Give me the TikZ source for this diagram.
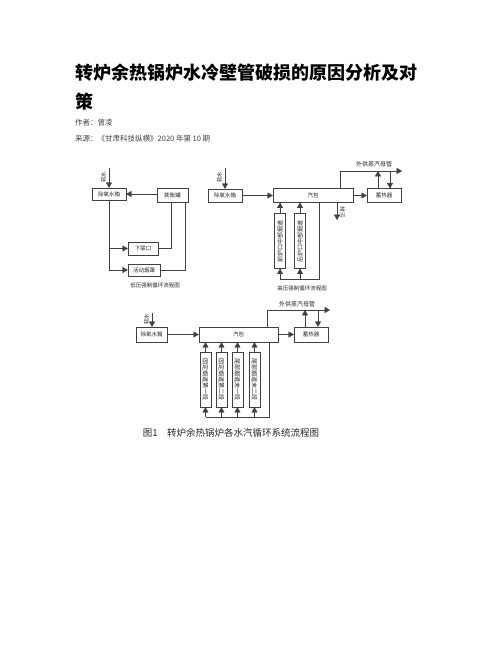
\documentclass[tikz,border=0pt]{standalone}
\usepackage{fontspec}
\newfontfamily\cjk{Noto Sans CJK SC}
\usetikzlibrary{arrows}
\tikzstyle{fl} = [-triangle 60]
\tikzstyle{bx} = [draw, inner sep=0pt, text=black!85, font=\cjk\fontsize{5.5}{6}\selectfont]
\tikzstyle{vbx} = [bx, minimum width=11pt, minimum height=55pt, font=\cjk\fontsize{6}{6}\selectfont]
\tikzstyle{lbl} = [inner sep=0pt, text=black!85, font=\cjk\fontsize{5.5}{6}\selectfont]

\begin{document}
\begin{tikzpicture}[yscale=-1, line width=0.4pt, draw=black!75]
			\useasboundingbox (0pt,0pt) rectangle (502pt,649pt);
			% title
			\node (title) at (75pt,73pt)[right, inner sep=0pt, font=\cjk\bfseries\fontsize{18}{20}\selectfont]{转炉余热锅炉水冷壁管破损的原因分析及对};
			\node (title2) at (75pt,102pt)[right, inner sep=0pt, font=\cjk\bfseries\fontsize{18}{20}\selectfont]{策};
			\node (author) at (75pt,123pt)[right, inner sep=0pt, text=black!75, font=\cjk\fontsize{7.5}{8}\selectfont]{作者：曾凌};
			\node (source) at (75pt,139pt)[right, inner sep=0pt, text=black!75, font=\cjk\fontsize{7.5}{8}\selectfont]{来源：《甘肃科技纵横》2020 年第 10 期};
			% low pressure loop
			\node[bx, minimum width=34pt, minimum height=12pt] (cy1) at (109pt,194pt) {除氧水箱};
			\node[bx, minimum width=31pt, minimum height=14pt] (pzg) at (172.5pt,195pt) {膨胀罐};
			\node[bx, minimum width=30pt, minimum height=13pt] (xlk) at (143pt,248.5pt) {下联口};
			\node[bx, minimum width=32pt, minimum height=12pt] (hdyz) at (144pt,270pt) {活动烟罩};
			\coordinate (rs1) at (109pt,168pt);
			\node[lbl] (rs1t) at (103.5pt,177pt) {\rotatebox{90}{软水}};
			\draw[fl] (rs1) -- (cy1.north);
			\draw[fl] (pzg.west |- cy1.east) -- (cy1.east);
			\draw[fl] (cy1.south) |- (hdyz.west);
			\draw[fl] (cy1.south |- xlk.west) -- (xlk.west);
			\draw ([xshift=-1.5pt]pzg.south) |- (xlk.east);
			\draw ([xshift=12.5pt]pzg.south) |- (hdyz.east);
			\node[lbl] (cap1) at (155pt,285pt) {低压强制循环流程图};
			% high pressure loop
			\node[bx, minimum width=34pt, minimum height=13pt] (cy2) at (225pt,195.5pt) {除氧水箱};
			\node[bx, minimum width=80pt, minimum height=14pt] (qb2) at (313pt,195.5pt) {汽包};
			\node[bx, minimum width=34pt, minimum height=14pt] (xrq2) at (384pt,195.5pt) {蓄热器};
			\node[vbx] (hv1) at (280pt,241pt) {\rotatebox{90}{前炉口中部烟道}};
			\node[vbx] (hv2) at (300pt,241pt) {\rotatebox{90}{后炉口中部烟道}};
			\coordinate (rs2) at (225pt,168pt);
			\node[lbl] (rs2t) at (219.5pt,177pt) {\rotatebox{90}{软水}};
			\draw[fl] (rs2) -- (cy2.north);
			\draw[fl] (cy2.east) -- (qb2.west);
			\draw[fl] (qb2.east) -- (xrq2.west);
			\coordinate (mg2) at (402pt,171pt);
			\draw[fl] ([xshift=27pt]qb2.north) |- (mg2);
			\node[lbl, font=\cjk\fontsize{6}{6}\selectfont] (mg2t) at (374pt,164.5pt) {外供蒸汽母管};
			\draw[fl] ([xshift=-6pt]xrq2.north) -- ([xshift=-6pt]xrq2.north |- mg2);
			\draw[fl] ([xshift=6pt]xrq2.north |- mg2) -- ([xshift=6pt]xrq2.north);
			\coordinate (pw2) at (337pt,220pt);
			\draw[fl] (qb2.south -| pw2) -- (pw2);
			\node[lbl] (pw2t) at (342.5pt,212pt) {\rotatebox{-90}{排污}};
			\draw[fl] (hv1.north) -- (qb2.south -| hv1.north);
			\draw[fl] (hv2.north) -- (qb2.south -| hv2.north);
			\coordinate (lp2) at (319pt,279pt);
			\draw (qb2.south -| lp2) -- (lp2) -- (hv1.south |- lp2);
			\draw[fl] (hv1.south |- lp2) -- (hv1.south);
			\draw[fl] (hv2.south |- lp2) -- (hv2.south);
			\node[lbl] (cap2) at (302pt,288pt) {高压强制循环流程图};
			% all loops
			\node[bx, minimum width=31pt, minimum height=15pt] (cy3) at (151.5pt,334.5pt) {除氧水箱};
			\node[bx, minimum width=79pt, minimum height=15pt] (qb3) at (238.5pt,334.5pt) {汽包};
			\node[bx, minimum width=34pt, minimum height=15pt] (xrq3) at (311pt,334.5pt) {蓄热器};
			\node[vbx] (v1) at (205.5pt,379.5pt) {\rotatebox{-90}{固定烟道第一段}};
			\node[vbx] (v2) at (221.5pt,379.5pt) {\rotatebox{-90}{固定烟道第二段}};
			\node[vbx] (v3) at (237.5pt,379.5pt) {\rotatebox{-90}{尾部烟道末一段}};
			\node[vbx] (v4) at (254.5pt,379.5pt) {\rotatebox{-90}{尾部烟道末二段}};
			\coordinate (rs3) at (152pt,313pt);
			\node[lbl] (rs3t) at (146.5pt,319pt) {\rotatebox{90}{软水}};
			\draw[fl] (rs3) -- (cy3.north -| rs3);
			\draw[fl] (cy3.east) -- (qb3.west);
			\draw[fl] (qb3.east) -- (xrq3.west);
			\coordinate (mg3) at (330pt,310pt);
			\draw[fl] ([xshift=28.5pt]qb3.north) |- (mg3);
			\node[lbl, font=\cjk\fontsize{6}{6}\selectfont] (mg3t) at (297pt,304pt) {外供蒸汽母管};
			\draw[fl] ([xshift=-6pt]xrq3.north) -- ([xshift=-6pt]xrq3.north |- mg3);
			\draw[fl] ([xshift=7pt]xrq3.north |- mg3) -- ([xshift=7pt]xrq3.north);
			\foreach \b in {v1,v2,v3,v4}
				\draw[fl] (\b.north) -- (qb3.south -| \b.north);
			\coordinate (lp3) at (269pt,417pt);
			\draw (qb3.south -| lp3) -- (lp3) -- (v1.south |- lp3);
			\foreach \b in {v1,v2,v3,v4}
				\draw[fl] (\b.south |- lp3) -- (\b.south);
			\node[inner sep=0pt, text=black!85, font=\cjk\fontsize{9.5}{10}\selectfont] (cap3) at (231pt,433pt) {图1\quad 转炉余热锅炉各水汽循环系统流程图};
		\end{tikzpicture}
\end{document}
